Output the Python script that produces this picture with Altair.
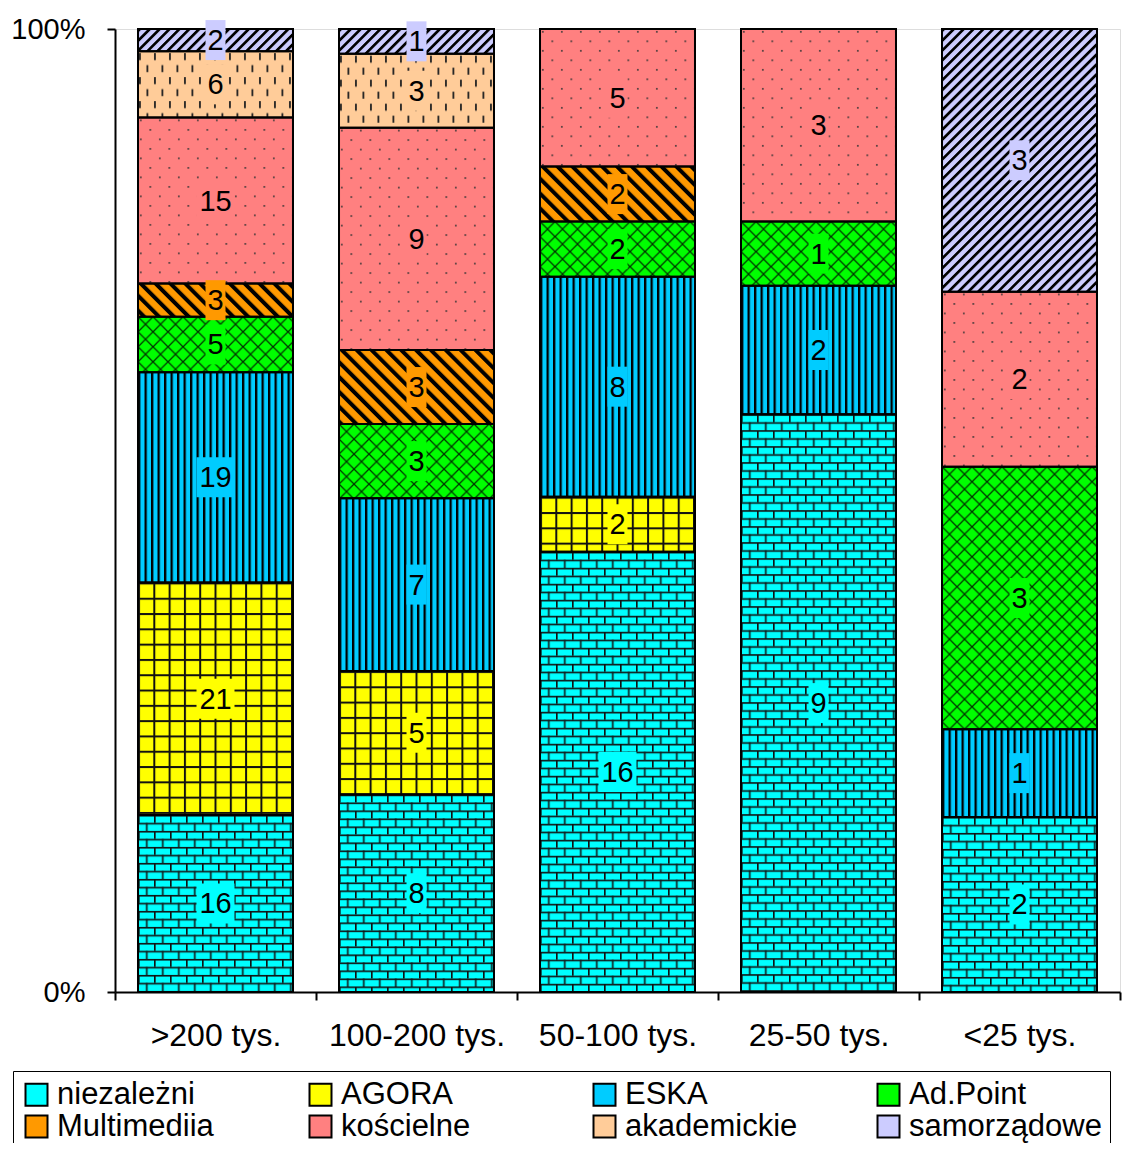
import altair as alt
import pandas as pd
from urllib.parse import quote

categories = [">200 tys.", "100-200 tys.", "50-100 tys.", "25-50 tys.", "<25 tys."]
series = ["niezależni", "AGORA", "ESKA", "Ad.Point", "Multimediia",
          "kościelne", "akademickie", "samorządowe"]
colors = ["#00FFFF", "#FFFF00", "#00CCFF", "#00FF00", "#FF9900",
          "#FF8080", "#FFCC99", "#CCCCFF"]

niezalezni = [16, 8, 16, 9, 2]
agora = [21, 5, 2, 0, 0]
eska = [19, 7, 8, 2, 1]
adpoint = [5, 3, 2, 1, 3]
multimediia = [3, 3, 2, 0, 0]
koscielne = [15, 9, 5, 3, 2]
akademickie = [6, 3, 0, 0, 0]
samorzadowe = [2, 1, 0, 0, 3]

values = [niezalezni, agora, eska, adpoint, multimediia, koscielne, akademickie, samorzadowe]
rows = []
for si, (s, vals) in enumerate(zip(series, values)):
    for c, v in zip(categories, vals):
        if v > 0:
            rows.append({"cat": c, "series": s, "order": si, "value": v})
df = pd.DataFrame(rows)

FONT = "Liberation Sans"
BAR = alt.RelativeBandSize(0.771)


def pattern_url(bg, w, h, inner, transform=""):
    tr = f" patternTransform='{transform}'" if transform else ""
    svg = ("<svg xmlns='http://www.w3.org/2000/svg' width='100%' height='100%'>"
           f"<defs><pattern id='p' patternUnits='userSpaceOnUse' width='{w}' height='{h}'{tr}>"
           f"{inner}</pattern></defs>"
           f"<rect width='100%' height='100%' fill='{bg}'/>"
           "<rect width='100%' height='100%' fill='url(#p)'/></svg>")
    return "data:image/svg+xml;charset=utf-8," + quote(svg)


patterns = {
    "niezależni": (16, 16,
                   "<rect x='0' y='0' width='16' height='1.6' fill='#111'/>"
                   "<rect x='0' y='8' width='16' height='1.6' fill='#111'/>"
                   "<rect x='0' y='0' width='1.6' height='8' fill='#111'/>"
                   "<rect x='8' y='8' width='1.6' height='8' fill='#111'/>", ""),
    "AGORA": (15.3, 15.3,
              "<rect x='0' y='0' width='15.3' height='2' fill='#111'/>"
              "<rect x='0' y='0' width='2' height='15.3' fill='#111'/>", ""),
    "ESKA": (6.5, 10, "<rect x='0' y='0' width='2.3' height='10' fill='#000'/>", ""),
    "Ad.Point": (15, 15,
                 "<path d='M-1,-1L16,16M16,-1L-1,16' stroke='#030' stroke-width='1.3'/>", ""),
    "Multimediia": (10.5, 10.5, "<rect x='0' y='0' width='4' height='10.5' fill='#000'/>",
                    "rotate(-45)"),
    "kościelne": (19, 19,
                  "<rect x='2' y='2' width='1.6' height='1.6' fill='#333'/>"
                  "<rect x='11.5' y='11.5' width='1.6' height='1.6' fill='#333'/>", ""),
    "akademickie": (15, 24,
                    "<rect x='1' y='2' width='1.8' height='7' fill='#222'/>"
                    "<rect x='8.5' y='14' width='1.8' height='7' fill='#222'/>", ""),
    "samorządowe": (7, 7, "<rect x='0' y='0' width='2.7' height='7' fill='#000'/>",
                    "rotate(45)"),
}

base = alt.Chart(df).transform_stack(
    stack="value", groupby=["cat"], as_=["v0", "v1"], offset="normalize",
    sort=[alt.SortField("order", order="ascending")]
).transform_calculate(
    mid="(datum.v0 + datum.v1) / 2",
    shp="datum.value >= 10 ? 'M-0.95,-1H0.95V1H-0.95Z' : 'M-0.5,-1H0.5V1H-0.5Z'"
)

x_enc = alt.X("cat:N", sort=categories,
              scale=alt.Scale(paddingInner=0, paddingOuter=0),
              axis=alt.Axis(title=None, tickBand="extent", labelFontSize=32,
                            labelFont=FONT, labelColor="black", labelPadding=20,
                            tickSize=8, tickWidth=2, tickColor="black",
                            domainColor="black", domainWidth=2, labelAngle=0))
x_plain = alt.X("cat:N", sort=categories)
y_scale = alt.Scale(domain=[0, 1])

color_enc = alt.Color(
    "series:N", scale=alt.Scale(domain=series, range=colors),
    legend=alt.Legend(
        title=None, orient="none", legendX=-102, legendY=1042,
        direction="horizontal", columns=4, gridAlign="all", columnPadding=55,
        rowPadding=0, symbolType="square", symbolSize=484,
        symbolStrokeColor="black", symbolStrokeWidth=2, symbolOpacity=1,
        labelFontSize=31, labelFont=FONT, labelColor="black", labelOffset=5,
        labelLimit=400, strokeColor="black", padding=8, fillColor="white"))

bars = base.mark_bar(stroke="black", strokeWidth=2, width=BAR).encode(
    x=x_enc,
    y=alt.Y("v0:Q", scale=y_scale,
            axis=alt.Axis(title=None, values=[0, 1], format=".0%", grid=False,
                          labelFontSize=29, labelFont=FONT, labelColor="black",
                          labelPadding=22, tickSize=8, tickWidth=2,
                          tickColor="black", domainColor="black", domainWidth=2)),
    y2="v1:Q",
    color=color_enc,
)

pattern_layers = []
for s, col in zip(series, colors):
    w, h, inner, tr = patterns[s]
    pattern_layers.append(
        base.transform_filter(alt.datum.series == s)
        .mark_image(url=pattern_url(col, w, h, inner, tr), aspect=False, width=BAR)
        .encode(x=x_plain, y=alt.Y("v0:Q", scale=y_scale), y2="v1:Q")
    )

outlines = base.mark_bar(fillOpacity=0, stroke="black", strokeWidth=2, width=BAR).encode(
    x=x_plain, y=alt.Y("v0:Q", scale=y_scale), y2="v1:Q",
)

boxes = base.mark_point(filled=True, opacity=1, size=1600, strokeWidth=0).encode(
    x=x_plain,
    y=alt.Y("mid:Q", scale=y_scale),
    shape=alt.Shape("shp:N", scale=None),
    color=alt.Color("series:N", scale=alt.Scale(domain=series, range=colors), legend=None),
)

labels = base.mark_text(fontSize=29, font=FONT, color="black",
                        baseline="middle", align="center", dy=1).encode(
    x=x_plain,
    y=alt.Y("mid:Q", scale=y_scale),
    text="value:Q",
)

chart = alt.layer(bars, *pattern_layers, outlines, boxes, labels).properties(
    width=1005, height=963,
    autosize=alt.AutoSizeParams(type="none"),
    padding={"left": 107, "top": 21, "right": 18, "bottom": 151},
).configure_view(stroke=None).configure(background="white")

chart.save("out.html", embed_options={"renderer": "svg", "actions": False})
